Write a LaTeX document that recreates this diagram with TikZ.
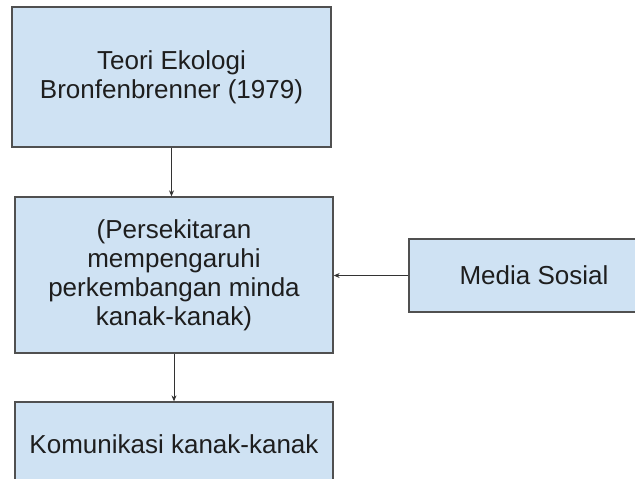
\documentclass[tikz,border=0pt]{standalone}
\usepackage{fontspec}
\setmainfont{Liberation Sans}
\usepackage{tikz}
\usetikzlibrary{arrows.meta,positioning}
\definecolor{boxBlue}{RGB}{207,226,243}
\definecolor{boxEdge}{RGB}{80,80,80}
\definecolor{txtGray}{RGB}{30,30,30}
\tikzset{
  flowbox/.style={draw=boxEdge, fill=boxBlue, line width=1.3pt, align=center,
    text=txtGray, inner sep=0pt, font=\fontsize{26}{29}\selectfont},
  flowarrow/.style={draw=black!80, line width=0.9pt, -{Stealth[length=6pt,width=5pt]}}
}

\begin{document}
\begin{tikzpicture}[x=1pt,y=-1pt]
\useasboundingbox (0,0) rectangle (635,479);
\clip (0,0) rectangle (635,479);
\fill[white] (0,0) rectangle (635,479);

% boxes
\node[flowbox, minimum width=319pt, minimum height=140pt] (teori) at (171.5,77) {Teori Ekologi\\Bronfenbrenner (1979)};
\node[flowbox, minimum width=318pt, minimum height=156pt] (persekitaran) at (174,275) {(Persekitaran\\mempengaruhi\\perkembangan minda\\kanak-kanak)};
\node[flowbox, minimum width=250pt, minimum height=73pt] (media) at (534,275.5) {Media Sosial};
\node[flowbox, minimum width=318pt, minimum height=84pt] (komunikasi) at (174,444) {Komunikasi kanak-kanak};

% arrows
\draw[flowarrow] (teori.south) -- (teori.south |- persekitaran.north);
\draw[flowarrow] (persekitaran.south) -- (komunikasi.north);
\draw[flowarrow] (media.west) -- (media.west -| persekitaran.east);
\end{tikzpicture}
\end{document}
